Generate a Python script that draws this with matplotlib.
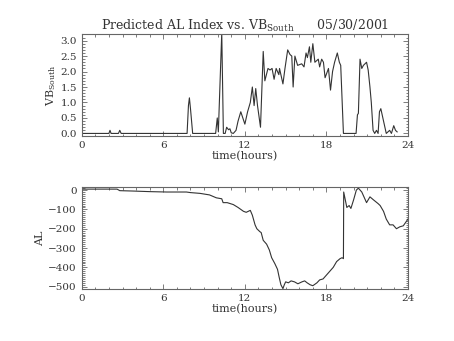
import matplotlib
matplotlib.use("Agg")
import matplotlib.pyplot as plt
from matplotlib.ticker import MultipleLocator

plt.rcParams['font.family'] = ['DejaVu Serif']
plt.rcParams['mathtext.fontset'] = 'dejavuserif'

# Southward IMF (VB_South) time series, hours of day
vb_time = [0.0, 2.0, 2.08, 2.16, 2.7, 2.8, 2.9, 7.75, 7.85, 7.92, 8.0, 8.16,
           9.85, 9.97, 10.05, 10.3, 10.42, 10.55, 10.66, 10.8, 10.9, 11.0, 11.15,
           11.35, 11.5, 11.7, 11.85, 12.0, 12.2, 12.4, 12.55, 12.68, 12.8, 12.93,
           13.15, 13.35, 13.47, 13.7, 13.85, 14.0, 14.15, 14.3, 14.5, 14.55, 14.8,
           14.95, 15.15, 15.32, 15.45, 15.55, 15.68, 15.88, 16.18, 16.35, 16.5,
           16.6, 16.75, 16.85, 17.0, 17.15, 17.4, 17.5, 17.65, 17.78, 17.9, 18.15,
           18.3, 18.45, 18.6, 18.8, 18.95, 19.05, 19.25, 20.18, 20.28, 20.35,
           20.47, 20.6, 20.72, 20.95, 21.07, 21.2, 21.3, 21.43, 21.55, 21.68,
           21.8, 21.9, 22.0, 22.1, 22.4, 22.65, 22.78, 22.95, 23.08, 23.2]
vb_value = [0.0, 0.0, 0.1, 0.0, 0.0, 0.1, 0.0, 0.0, 0.9, 1.15, 0.8, 0.0,
            0.0, 0.5, 0.05, 3.25, 0.0, 0.0, 0.2, 0.12, 0.15, 0.02, 0.0,
            0.1, 0.4, 0.7, 0.5, 0.3, 0.7, 1.0, 1.5, 0.9, 1.45, 0.9,
            0.2, 2.65, 1.7, 2.1, 2.05, 2.1, 1.75, 2.1, 1.9, 2.1, 1.6,
            2.1, 2.7, 2.55, 2.5, 1.5, 2.5, 2.2, 2.25, 2.15, 2.6,
            2.45, 2.8, 2.3, 2.9, 2.3, 2.4, 2.15, 2.4, 2.3, 1.8, 2.1,
            1.4, 2.0, 2.3, 2.6, 2.3, 2.2, 0.0, 0.0, 0.6, 0.65,
            2.4, 2.1, 2.2, 2.3, 2.05, 1.5, 1.0, 0.1, 0.0, 0.1,
            0.0, 0.7, 0.8, 0.6, 0.0, 0.1, 0.0, 0.25, 0.1, 0.05]

# Predicted AL index (nT), hours of day
al_time = [0.0, 2.6, 2.8, 3.8, 5.0, 6.25, 7.7, 8.0, 8.7, 9.4, 9.9, 10.3, 10.4,
           10.7, 11.15, 11.5, 11.9, 12.1, 12.4, 12.55, 12.75, 12.88, 13.1, 13.2,
           13.35, 13.6, 13.8, 13.97, 14.2, 14.4, 14.52, 14.65, 14.8, 14.9, 15.0,
           15.2, 15.4, 15.65, 15.9, 16.2, 16.4, 16.58, 16.8, 17.0, 17.3, 17.5,
           17.75, 18.0, 18.25, 18.5, 18.75, 19.0, 19.15, 19.25, 19.27, 19.5,
           19.67, 19.8, 20.0, 20.2, 20.35, 20.6, 20.95, 21.2, 21.45, 21.8, 21.95,
           22.2, 22.4, 22.65, 22.9, 23.15, 23.4, 23.65, 23.9, 24.0]
al_value = [5, 5, -3, -5, -8, -10, -10, -13, -17, -25, -40, -45, -65,
            -65, -75, -90, -110, -115, -105, -130, -180, -200, -215, -220,
            -260, -280, -310, -350, -380, -410, -450, -490, -510, -490, -475,
            -480, -470, -475, -485, -475, -470, -480, -490, -495, -480, -465,
            -460, -440, -420, -400, -370, -355, -350, -355, -10, -90,
            -80, -95, -50, 0, 10, -10, -65, -35, -50, -70, -80,
            -110, -150, -180, -180, -200, -190, -185, -160, -150]

x_ticks = [0, 6, 12, 18, 24]

ink = '#333333'
frame = '#666666'

fig = plt.figure(figsize=(4.54, 3.41), dpi=100)
ax1 = fig.add_axes([0.18, 0.601, 0.7187, 0.299])
ax2 = fig.add_axes([0.18, 0.1525, 0.7187, 0.298])


def style(ax):
    for s in ax.spines.values():
        s.set_color(frame)
        s.set_linewidth(0.8)
    ax.tick_params(which='both', direction='in', top=True, right=True,
                   colors=frame, labelcolor=ink, labelsize=7.5, width=0.6)
    ax.tick_params(which='major', length=3.5)
    ax.tick_params(which='minor', length=1.8)
    ax.set_xlim(0, 24)
    ax.set_xticks(x_ticks)
    ax.xaxis.set_minor_locator(MultipleLocator(1))
    ax.set_xlabel('time(hours)', fontsize=8, color=ink, labelpad=1)


ax1.plot(vb_time, vb_value, color=ink, lw=0.8)
style(ax1)
ax1.set_ylim(-0.085, 3.21)
ax1.yaxis.set_major_locator(MultipleLocator(0.5))
ax1.yaxis.set_minor_locator(MultipleLocator(0.1))
ax1.yaxis.set_major_formatter(matplotlib.ticker.FormatStrFormatter('%.1f'))
ax1.set_ylabel('VB$_{\\mathrm{South}}$', fontsize=8, color=ink, labelpad=2)
ax1.set_title('Predicted AL Index vs. VB$_{\\mathrm{South}}$      05/30/2001',
              fontsize=9, color=ink, pad=3)

ax2.plot(al_time, al_value, color=ink, lw=0.8)
style(ax2)
ax2.set_ylim(-512, 14)
ax2.yaxis.set_major_locator(MultipleLocator(100))
ax2.yaxis.set_minor_locator(MultipleLocator(10))
ax2.set_ylabel('AL', fontsize=8, color=ink, labelpad=2)

fig.savefig('out.png', dpi=100)
